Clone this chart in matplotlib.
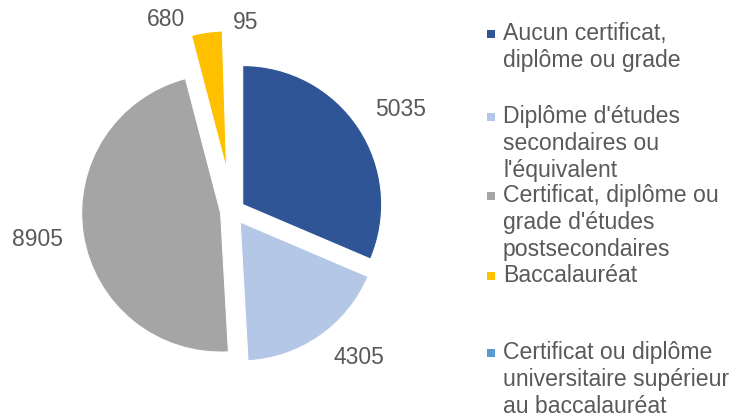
import matplotlib
matplotlib.use("Agg")
import matplotlib.pyplot as plt

categories = [
    "Aucun certificat,\ndiplôme ou grade",
    "Diplôme d'études\nsecondaires ou\nl'équivalent",
    "Certificat, diplôme ou\ngrade d'études\npostsecondaires",
    "Baccalauréat",
    "Certificat ou diplôme\nuniversitaire supérieur\nau baccalauréat",
]
# slice sizes as drawn in the picture (angles measured off the wedges)
slice_values = [5975, 3365, 8905, 680, 95]
# data labels as printed on the chart
value_labels = ["5035", "4305", "8905", "680", "95"]

colors = ["#2F5597", "#B4C7E7", "#A5A5A5", "#FFC000", "#5B9BD5"]
explode = [0.087, 0.095, 0.087, 0.30, 0.30]
label_xy = [(1.211, 0.732), (0.909, -1.053), (-1.404, -0.200), (-0.479, 1.376), (0.093, 1.361)]
legend_tops = [22, 105, 184, 264, 341]
TXT = "#595959"
FONT = "Liberation Sans"

W, H = 740, 417
fig = plt.figure(figsize=(W / 100, H / 100), dpi=100)
fig.patch.set_facecolor("white")

# pie axes: center at pixel (232.6, 211.2), radius 139 px
r_px = 139.0
cx, cy = 232.6, 211.2
ax_w = 470
ax = fig.add_axes([0, 0, ax_w / W, 1])

wedges, _ = ax.pie(slice_values, colors=colors, explode=explode, startangle=90,
                   counterclock=False, radius=1.0,
                   wedgeprops=dict(edgecolor="white", linewidth=0.8))
wedges[-1].set_linewidth(3.0)
ax.set_aspect("auto")
ax.set_xlim(-cx / r_px, (ax_w - cx) / r_px)
ax.set_ylim(-(H - cy) / r_px, cy / r_px)
ax.axis("off")
for lbl, (x, y) in zip(value_labels, label_xy):
    ax.text(x, y, lbl, ha="center", va="center", fontsize=16.5, color=TXT, family=FONT)

# legend, drawn manually
for cat, col, ytop in zip(categories, colors, legend_tops):
    fig.text(503 / W, 1 - ytop / H, cat, ha="left", va="top", fontsize=16.6,
             color=TXT, family=FONT, linespacing=1.22)
    fig.patches.append(plt.Rectangle((487 / W, 1 - (ytop + 16) / H), 8 / W, 8 / H,
                                     transform=fig.transFigure, facecolor=col,
                                     edgecolor="none"))

fig.savefig("out.png", dpi=100)
